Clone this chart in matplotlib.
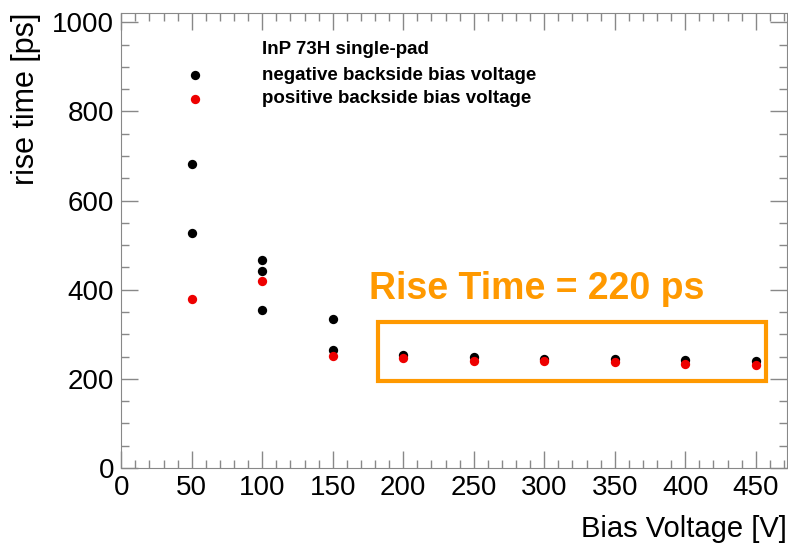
import numpy as np
import matplotlib.pyplot as plt
from matplotlib.ticker import MultipleLocator
from matplotlib.patches import Rectangle

# negative backside bias voltage (black)
neg_v = [50, 50, 100, 100, 100, 150, 150, 200, 250, 300, 350, 400, 450]
neg_rt = [682, 528, 467, 443, 355, 334, 264, 253, 248, 245, 244, 243, 241]

# positive backside bias voltage (red)
pos_v = [50, 100, 150, 200, 250, 300, 350, 400, 450]
pos_rt = [380, 420, 251, 246, 240, 240, 237, 234, 231]

plt.rcParams['font.family'] = ['Liberation Sans', 'DejaVu Sans']

fig = plt.figure(figsize=(7.88, 5.45), dpi=100)
ax = fig.add_axes([0.1538, 0.1413, 0.8447, 0.8357])

ax.scatter(neg_v, neg_rt, s=45, color='black', zorder=3, linewidths=0)
ax.scatter(pos_v, pos_rt, s=45, color='#ee0000', zorder=4, linewidths=0)

ax.set_xlim(0, 472)
ax.set_ylim(0, 1022)
ax.xaxis.set_major_locator(MultipleLocator(50))
ax.xaxis.set_minor_locator(MultipleLocator(10))
ax.yaxis.set_major_locator(MultipleLocator(200))
ax.yaxis.set_minor_locator(MultipleLocator(50))
ax.tick_params(which='both', direction='in', top=True, right=True,
               color='#888888', labelsize=20, pad=5)
ax.tick_params(which='major', length=12, width=1)
ax.tick_params(which='minor', length=6, width=1)
for sp in ax.spines.values():
    sp.set_color('#888888')

ax.set_ylabel('rise time [ps]', fontsize=22, loc='top', labelpad=8)
ax.set_xlabel('Bias Voltage [V]', fontsize=21, loc='right', labelpad=10)

# legend
fs = 13.5
ax.text(0.212, 0.919, 'InP 73H single-pad', transform=ax.transAxes,
        fontsize=fs, fontweight='bold', va='center')
ax.scatter([0.111], [0.862], s=45, color='black', transform=ax.transAxes,
           linewidths=0, clip_on=False)
ax.scatter([0.111], [0.811], s=45, color='#ee0000', transform=ax.transAxes,
           linewidths=0, clip_on=False)
ax.text(0.212, 0.862, 'negative backside bias voltage', transform=ax.transAxes,
        fontsize=fs, fontweight='bold', va='center')
ax.text(0.212, 0.811, 'positive backside bias voltage', transform=ax.transAxes,
        fontsize=fs, fontweight='bold', va='center')

# highlight box
orange = '#ff9900'
ax.add_patch(Rectangle((182, 196), 275, 132, fill=False, edgecolor=orange,
                       linewidth=3, zorder=5))
ax.text(176, 362, 'Rise Time = 220 ps', color=orange, fontsize=27,
        fontweight='bold', va='bottom')

fig.savefig('out.png', dpi=100)
